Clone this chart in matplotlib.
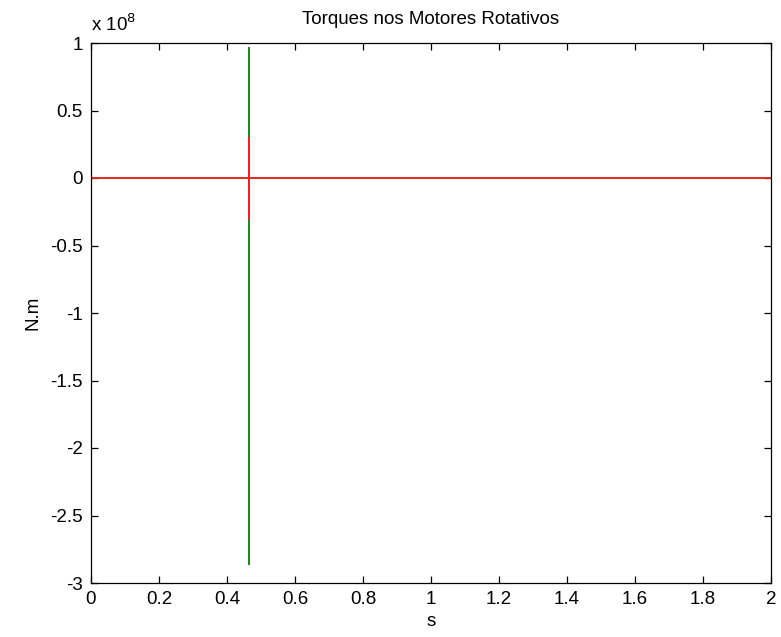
import numpy as np
import matplotlib.pyplot as plt

plt.rcParams['font.family'] = ['Liberation Sans', 'DejaVu Sans']

# samples around the torque spike (s)
t = [0.0, 0.465, 0.465, 0.465, 0.465, 2.0]
torque_green = [0.0, 0.0, 0.96e8, -2.86e8, 0.0, 0.0]
torque_red = [0.0, 0.0, 0.30e8, -0.30e8, 0.0, 0.0]

x_ticks = [0, 0.2, 0.4, 0.6, 0.8, 1, 1.2, 1.4, 1.6, 1.8, 2]
y_ticks = [-3, -2.5, -2, -1.5, -1, -0.5, 0, 0.5, 1]

fig = plt.figure(figsize=(7.81, 6.37), dpi=100)
ax = fig.add_axes([91 / 781, 54 / 637, 680 / 781, 540 / 637])

scale = 1e8
ax.plot(t, np.array(torque_green) / scale, color='#1a8c1a', lw=1.2)
ax.plot(t, np.array(torque_red) / scale, color='#ff1a1a', lw=1.2)

ax.set_xlim(0, 2)
ax.set_ylim(-3, 1)
ax.set_xticks(x_ticks)
ax.set_xticklabels([f"{v:g}" for v in x_ticks])
ax.set_yticks(y_ticks)
ax.set_yticklabels([f"{v:g}" for v in y_ticks])
ax.tick_params(direction='in', top=True, right=True, labelsize=13.5,
               length=5, pad=6, width=0.9)
for s in ax.spines.values():
    s.set_linewidth(0.9)

ax.set_title("Torques nos Motores Rotativos", fontsize=13.5, pad=14)
ax.set_xlabel("s", fontsize=13.5, labelpad=3)
ax.set_ylabel("N.m", fontsize=13.5, labelpad=6)
ax.text(0.0, 1.015, r"x 10$^{8}$", transform=ax.transAxes, fontsize=13.5,
        ha='left', va='bottom')

fig.savefig("out.png", dpi=100)
